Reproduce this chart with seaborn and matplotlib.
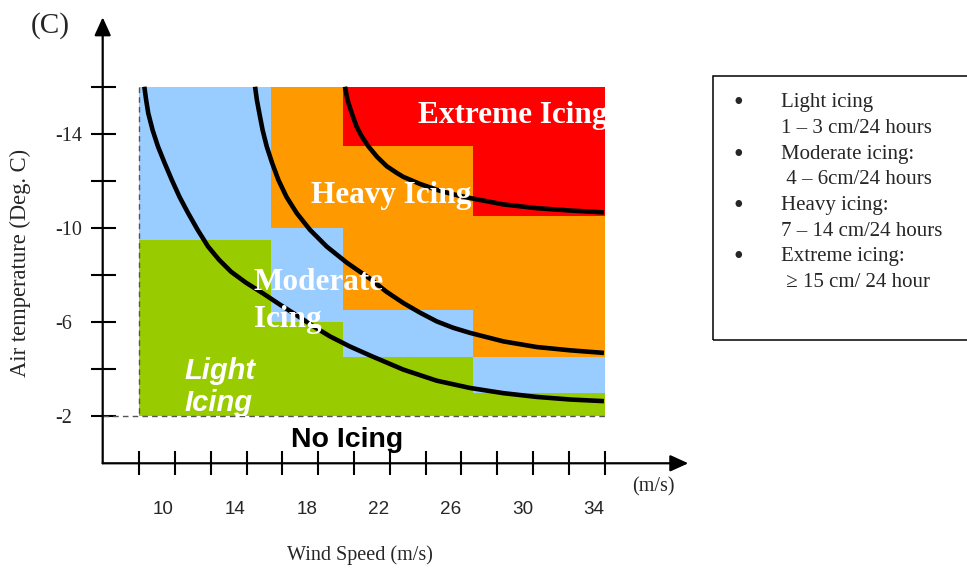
import numpy as np
import matplotlib
matplotlib.use("Agg")
import matplotlib.pyplot as plt
from matplotlib.patches import Rectangle
import seaborn as sns

# icing classes on a wind speed / air temperature grid
wind_edges = [8.65, 16.0, 20.0, 27.25, 34.6]
temp_base = -2.0
temp_top = -16.0
light_top = [-9.5, -6.0, -4.5, -3.0]
moderate_top = [-16.0, -10.0, -6.5, -4.5]
heavy_top = [-16.0, -16.0, -13.5, -10.5]

# boundary curves
curve_light_v = [8.94, 9.04, 9.16, 9.40, 9.70, 10.07, 10.47, 10.90, 11.38, 11.91, 12.49,
                 13.10, 13.77, 14.61, 15.57, 16.50, 17.43, 18.34, 19.29, 20.40, 21.52,
                 23.37, 25.23, 27.09, 28.94, 30.80, 32.66, 34.55]
curve_light_t = [-16.0, -15.44, -14.87, -14.16, -13.46, -12.76, -12.04, -11.32, -10.63,
                 -9.92, -9.21, -8.65, -8.14, -7.67, -7.21, -6.74, -6.29, -5.83, -5.39,
                 -4.96, -4.58, -3.98, -3.51, -3.20, -2.98, -2.82, -2.71, -2.64]
curve_moderate_v = [15.11, 15.21, 15.35, 15.53, 15.76, 16.06, 16.41, 16.86, 17.43, 18.17,
                    19.10, 20.23, 21.52, 22.43, 23.37, 24.30, 25.23, 26.14, 27.09, 28.94,
                    30.80, 32.66, 34.55]
curve_moderate_t = [-16.0, -15.44, -14.87, -14.16, -13.46, -12.76, -12.04, -11.32, -10.63,
                    -9.92, -9.21, -8.52, -7.84, -7.29, -6.81, -6.40, -6.03, -5.76, -5.54,
                    -5.18, -4.94, -4.80, -4.69]
curve_heavy_v = [20.12, 20.26, 20.50, 20.77, 21.07, 21.43, 21.91, 22.45, 23.00, 23.37,
                 24.30, 25.23, 26.14, 27.09, 28.94, 30.80, 32.66, 34.55]
curve_heavy_t = [-16.0, -15.44, -14.87, -14.30, -13.87, -13.46, -13.02, -12.62, -12.34,
                 -12.17, -11.87, -11.62, -11.43, -11.27, -11.0, -10.84, -10.74, -10.66]

wind_ticks = [10, 14, 18, 22, 26, 30, 34]
temp_ticks = [-14, -10, -6, -2]

legend_lines = ["Light icing", "1 \u2013 3 cm/24 hours",
                "Moderate icing:", " 4 \u2013 6cm/24 hours",
                "Heavy icing:", "7 \u2013 14 cm/24 hours",
                "Extreme icing:", " \u2265 15 cm/ 24 hour"]

c_light, c_mod, c_heavy, c_ext = "#99CC00", "#99CCFF", "#FF9900", "#FF0000"

sns.set_style("white")
plt.rcParams['font.family'] = ['Liberation Serif', 'DejaVu Serif']
SANS = ['Liberation Sans', 'DejaVu Sans']

fig = plt.figure(figsize=(9.67, 5.69), dpi=100)
ax = fig.add_axes([0.1062, 0.1858, 0.6056, 0.7838])
ax.set_xlim(6.62, 39.25)
ax.set_ylim(0, -18.95)

left = np.array(wind_edges[:-1])
widths = np.diff(wind_edges)
lt, mt, ht = np.array(light_top), np.array(moderate_top), np.array(heavy_top)
kw = dict(align='edge', linewidth=0, antialiased=False, zorder=1)
ax.bar(left, lt - temp_base, widths, bottom=temp_base, color=c_light, **kw)
ax.bar(left, mt - lt, widths, bottom=lt, color=c_mod, **kw)
ax.bar(left, ht - mt, widths, bottom=mt, color=c_heavy, **kw)
ax.bar(left, temp_top - ht, widths, bottom=ht, color=c_ext, **kw)

# dashed frame of the grid
ax.plot([wind_edges[0], wind_edges[0]], [temp_top, temp_base], color='#555555',
        lw=1, dashes=(4, 3), zorder=2)
ax.plot([6.62, wind_edges[-1]], [temp_base, temp_base], color='#555555',
        lw=1, dashes=(4, 3), zorder=2)

for cv, ct in [(curve_light_v, curve_light_t), (curve_moderate_v, curve_moderate_t),
               (curve_heavy_v, curve_heavy_t)]:
    sns.lineplot(x=cv, y=ct, sort=False, estimator=None, color='black', lw=3.3,
                 solid_joinstyle='round', solid_capstyle='butt', ax=ax, zorder=3)

# axes with arrows
for s in ax.spines.values():
    s.set_visible(False)
arrow = dict(arrowstyle='-|>,head_length=0.55,head_width=0.25', lw=1.6, color='black',
             mutation_scale=20, shrinkA=0, shrinkB=0)
a1 = ax.annotate('', xy=(6.62, -18.95), xytext=(6.62, 0), arrowprops=arrow,
                 annotation_clip=False)
a2 = ax.annotate('', xy=(39.25, 0), xytext=(6.62, 0), arrowprops=arrow,
                 annotation_clip=False)
for a in (a1, a2):
    a.arrow_patch.set_clip_on(False)

ax.set_xticks(wind_ticks, labels=[str(w) for w in wind_ticks])
ax.set_xticks(np.arange(14) * 1.995 + 8.65, minor=True)
ax.tick_params(axis='x', which='major', bottom=True, length=0, pad=27, labelsize=13.6)
ax.tick_params(axis='x', which='minor', bottom=True, direction='inout', length=16.6,
               width=1.5, color='black')
for lab in ax.get_xticklabels():
    lab.set_family(SANS)

ax.set_yticks(temp_ticks, labels=[str(t) for t in temp_ticks])
ax.set_yticks([-16, -12, -8, -4], minor=True)
ax.tick_params(axis='y', which='both', left=True, direction='inout', length=18, width=1.5,
               color='black', pad=25.3, labelsize=14.5)
for lab in ax.get_yticklabels():
    lab.set_horizontalalignment('left')

ax.set_xlabel("Wind Speed (m/s)", fontsize=14.5)
ax.xaxis.set_label_coords(0.4394, -0.2056)
ax.xaxis.label.set_va('center')
ax.set_ylabel("Air temperature (Deg. C)", fontsize=16.3)
ax.yaxis.set_label_coords(-0.141, 0.45)
ax.yaxis.label.set_va('center')

# labels inside the grid, clipped to the coloured area
clip = Rectangle((wind_edges[0], temp_top), wind_edges[-1] - wind_edges[0],
                 temp_base - temp_top, transform=ax.transData)
bold = dict(color='white', fontweight='bold', fontsize=22.5, va='baseline', zorder=4)
for s, x, y in [("Extreme Icing", 24.21, -14.45), ("Heavy Icing", 18.23, -11.05),
                ("Moderate", 15.05, -7.38), ("Icing", 15.05, -5.79)]:
    t = ax.text(x, y, s, clip_on=True, **bold)
    t.set_clip_path(clip)
for s, y in [("Light", -3.59), ("Icing", -2.21)]:
    t = ax.text(11.15, y, s, color='white', fontweight='bold', fontstyle='italic',
                fontsize=21, family=SANS, va='baseline', clip_on=True, zorder=4)
    t.set_clip_path(clip)
ax.text(20.23, -0.68, "No Icing", color='black', fontweight='bold', fontsize=20.5,
        family=SANS, ha='center', va='baseline', zorder=4)

fig.text(50 / 967, 1 - 26 / 569, "(C)", fontsize=21, ha='center', va='center')
fig.text(653.3 / 967, 1 - 486.7 / 569, "(m/s)", fontsize=14.5, ha='center', va='center')

# legend box
fig.add_artist(Rectangle((713 / 967, 1 - 340 / 569), 0.3, 264 / 569,
                         transform=fig.transFigure, fill=False, lw=1.1,
                         edgecolor='black'))
for i, line in enumerate(legend_lines):
    base = 1 - (107.5 + i * 25.6) / 569
    if i % 2 == 0:
        fig.text(738 / 967, base - 3 / 569, "\u2022", fontsize=20, ha='center',
                 va='baseline')
    fig.text(781 / 967, base, line, fontsize=15, ha='left', va='baseline')

fig.savefig("out.png", dpi=100)
